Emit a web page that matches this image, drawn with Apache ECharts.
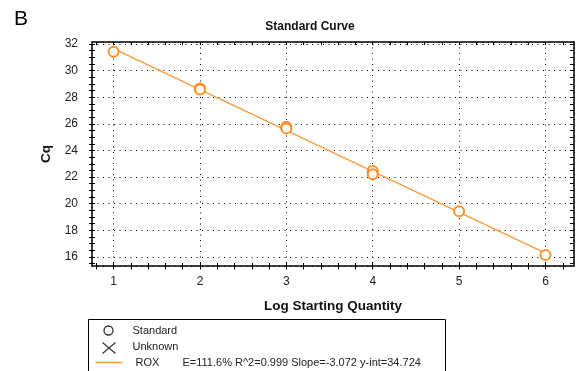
<!DOCTYPE html>
<html>
<head>
<meta charset="utf-8">
<script src="https://cdn.jsdelivr.net/npm/echarts@6/dist/echarts.min.js"></script>
<style>
  html, body { margin: 0; padding: 0; background: #fff; }
  #chart { width: 577px; height: 371px; }
</style>
</head>
<body>
<div id="chart"></div>
<script>
// Standard wells: log starting quantity vs. quantification cycle
const logQuantity = [1, 2, 2, 3, 3, 4, 4, 5, 6];
const cqValues = [31.42, 28.66, 28.58, 25.78, 25.66, 22.46, 22.22, 19.44, 16.14];

// Fitted standard curve (ROX)
const fitSlope = -3.072;
const fitIntercept = 34.724;
const fitEfficiency = '111.6%';
const fitR2 = '0.999';

// Axis ticks
const xTickLabels = [1, 2, 3, 4, 5, 6];
const yTickLabels = [16, 18, 20, 22, 24, 26, 28, 30, 32];

const XMIN = 0.75, XMAX = 6.33, YMIN = 15.32, YMAX = 32.15;
const FONT = 'Liberation Sans, Arial, sans-serif';
const ORANGE = '#ff8514';
const LINE_ORANGE = '#f99c40';

// minor tick positions: every 0.2 on x, every 0.5 on y
const xMinor = [];
for (let i = 4; i <= 31; i++) xMinor.push(Math.round(i * 2) / 10);
const yMinor = [];
for (let i = 31; i <= 64; i++) yMinor.push(i / 2);

const fitLine = [xTickLabels[0], xTickLabels[xTickLabels.length - 1]]
  .map(x => [x, fitIntercept + fitSlope * x]);

function tickAxis(position, values, inside, len, showLine) {
  return {
    type: 'value', position: position, min: 0, max: 0,
    axisLine: { show: !!showLine, onZero: false, lineStyle: { color: '#000', width: 1.5 } },
    axisTick: { show: true, inside: inside, length: len, customValues: values,
                lineStyle: { color: '#000', width: 1 } },
    axisLabel: { show: false },
    splitLine: { show: false }
  };
}

const xAxes = [
  {
    type: 'value', position: 'bottom', min: XMIN, max: XMAX, splitNumber: 5,
    name: 'Log Starting Quantity', nameLocation: 'middle', nameGap: 33,
    nameTextStyle: { fontFamily: FONT, fontWeight: 'bold', fontSize: 13.5, color: '#111' },
    axisLine: { show: true, onZero: false, lineStyle: { color: '#000', width: 1.5 } },
    axisTick: { show: false },
    axisLabel: { fontFamily: FONT, fontSize: 12, color: '#222', margin: 10,
                 formatter: v => xTickLabels.includes(v) ? String(v) : '' },
    splitLine: { show: true, lineStyle: { color: '#000', width: 1, type: [1, 4.5] } }
  },
  tickAxis('bottom', xMinor, false, 3.5),
  tickAxis('bottom', xMinor, true, 3),
  tickAxis('top', xMinor, true, 3, true)
];
const yAxes = [
  {
    type: 'value', position: 'left', min: YMIN, max: YMAX, splitNumber: 8,
    name: 'Cq', nameLocation: 'middle', nameGap: 36,
    nameTextStyle: { fontFamily: FONT, fontWeight: 'bold', fontSize: 13.5, color: '#111' },
    axisLine: { show: true, onZero: false, lineStyle: { color: '#000', width: 1.5 } },
    axisTick: { show: false },
    axisLabel: { fontFamily: FONT, fontSize: 12, color: '#222', margin: 14,
                 formatter: v => yTickLabels.includes(v) ? String(v) : '' },
    splitLine: { show: true, lineStyle: { color: '#000', width: 1, type: [1, 4.5] } }
  },
  tickAxis('left', yMinor, false, 3),
  tickAxis('left', yMinor, true, 3),
  tickAxis('right', yMinor, true, 4, true)
];
xAxes.slice(1).forEach(a => { a.min = XMIN; a.max = XMAX; });
yAxes.slice(1).forEach(a => { a.min = YMIN; a.max = YMAX; });

const chart = echarts.init(document.getElementById('chart'));
chart.setOption({
  animation: false,
  backgroundColor: '#fff',
  title: [
    { text: 'B', left: 14, top: 9, padding: 0,
      textStyle: { fontFamily: FONT, fontWeight: 'normal', fontSize: 21, color: '#000' } },
    { text: 'Standard Curve', left: 310, top: 21, padding: 0, textAlign: 'center',
      textStyle: { fontFamily: FONT, fontWeight: 'bold', fontSize: 12, color: '#111' } }
  ],
  grid: { left: 92, top: 42, right: 1, bottom: 105, containLabel: false },
  xAxis: xAxes,
  yAxis: yAxes,
  series: [
    {
      name: 'ROX', type: 'line', xAxisIndex: 0, yAxisIndex: 0,
      data: fitLine, symbol: 'none', z: 2,
      lineStyle: { color: LINE_ORANGE, width: 1.4 }
    },
    {
      name: 'Standard', type: 'scatter', xAxisIndex: 0, yAxisIndex: 0,
      data: logQuantity.map((x, i) => [x, cqValues[i]]),
      symbol: 'emptyCircle', symbolSize: 10, z: 3,
      itemStyle: { color: ORANGE, borderColor: ORANGE, borderWidth: 2, opacity: 0.9 }
    }
  ],
  graphic: [
    {
      type: 'group', left: 88, top: 319,
      children: [
        { type: 'rect', shape: { x: 0, y: 0, width: 357, height: 70 },
          style: { fill: '#fff', stroke: '#000', lineWidth: 1 } },
        { type: 'circle', shape: { cx: 20, cy: 11, r: 4.5 },
          style: { fill: 'none', stroke: '#333', lineWidth: 1.3 } },
        { type: 'line', shape: { x1: 14, y1: 23, x2: 27, y2: 34 },
          style: { stroke: '#333', lineWidth: 1.1 } },
        { type: 'line', shape: { x1: 27, y1: 23, x2: 14, y2: 34 },
          style: { stroke: '#333', lineWidth: 1.1 } },
        { type: 'line', shape: { x1: 7, y1: 43, x2: 34, y2: 43 },
          style: { stroke: LINE_ORANGE, lineWidth: 1.5 } },
        { type: 'text', x: 44, y: 11,
          style: { text: 'Standard', fontFamily: FONT, fontSize: 11, fill: '#222', verticalAlign: 'middle' } },
        { type: 'text', x: 44, y: 27,
          style: { text: 'Unknown', fontFamily: FONT, fontSize: 11, fill: '#222', verticalAlign: 'middle' } },
        { type: 'text', x: 47, y: 43,
          style: { text: 'ROX', fontFamily: FONT, fontSize: 11, fill: '#222', verticalAlign: 'middle' } },
        { type: 'text', x: 94, y: 43,
          style: { text: 'E=' + fitEfficiency + ' R^2=' + fitR2 + ' Slope=' + fitSlope.toFixed(3) +
                         ' y-int=' + fitIntercept.toFixed(3),
                   fontFamily: FONT, fontSize: 11, fill: '#222', verticalAlign: 'middle' } }
      ]
    }
  ]
});
</script>
</body>
</html>
